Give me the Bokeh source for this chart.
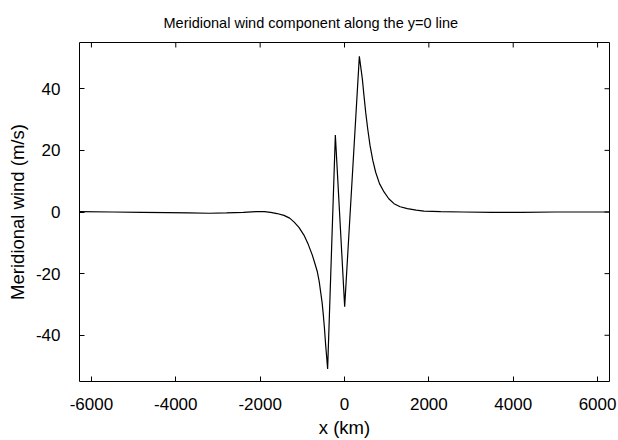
import math
from bokeh.plotting import figure
from bokeh.models import Range1d, FixedTicker
from bokeh.embed import file_html
from bokeh.resources import INLINE

# ---- data ----
x_km = [-6283, -5500, -4800, -4200, -3700, -3200, -2800, -2400, -2100, -1900,
        -1750, -1600, -1436, -1300, -1199, -1080, -962, -860, -763, -700,
        -644, -600, -566, -530, -502, -475, -447, -420, -400,
        -217, 4, 352,
        423, 460, 502, 550, 605, 670, 739, 830, 937, 1050, 1174, 1320, 1491,
        1700, 1885, 2281, 2800, 3500, 4200, 5000, 5800, 6283]
v_ms = [0.1, 0.0, -0.1, -0.2, -0.3, -0.4, -0.3, -0.1, 0.1, 0.1,
        -0.1, -0.5, -1.1, -2.0, -3.2, -5.0, -7.5, -10.5, -14.0, -16.8,
        -19.4, -22.5, -25.9, -29.5, -33.4, -37.8, -43.1, -47.5, -50.9,
        25.0, -30.7, 50.5,
        43.2, 38.0, 32.4, 27.0, 21.6, 16.8, 12.9, 9.2, 6.5, 4.3, 2.7, 1.7, 1.1,
        0.6, 0.3, 0.1, 0.0, -0.1, -0.1, 0.0, 0.0, 0.0]

x_ticks = [-6000, -4000, -2000, 0, 2000, 4000, 6000]
x_tick_labels = ["-6000", "-4000", "-2000", "0", "2000", "4000", "6000"]
y_ticks = [-40, -20, 0, 20, 40]
y_tick_labels = ["-40", "-20", "0", "20", "40"]

x_min, x_max = -6283, 6283
y_min, y_max = -55, 55

FONT = "Liberation Sans"

p = figure(width=618, height=440, output_backend="svg", toolbar_location=None,
           x_range=Range1d(x_min, x_max), y_range=Range1d(y_min, y_max),
           min_border_left=79, min_border_right=9, min_border_top=42,
           min_border_bottom=58)

p.line(x_km, v_ms, line_color="black", line_width=1.2)

# mirrored inward ticks on the top and right edges (clipped to the frame)
p.scatter(x_ticks, [y_max] * len(x_ticks), marker="dash", size=10,
          angle=math.pi / 2, line_color="black", line_width=1)
p.scatter([x_max] * len(y_ticks), y_ticks, marker="dash", size=10,
          angle=0, line_color="black", line_width=1)

p.xgrid.visible = False
p.ygrid.visible = False
p.outline_line_color = "black"
p.outline_line_width = 1
p.outline_line_alpha = 1
p.background_fill_color = "white"
p.border_fill_color = "white"

p.title.text = "Meridional wind component along the y=0 line"
p.title.align = "left"
p.title.offset = 84
p.title.text_font = FONT
p.title.text_font_size = "14.5px"
p.title.text_font_style = "normal"
p.title.text_color = "black"
p.title.standoff = 23

def style(ax, ticks, labels):
    ax.ticker = FixedTicker(ticks=ticks)
    ax.major_label_overrides = {t: s for t, s in zip(ticks, labels)}
    ax.axis_line_color = None
    ax.major_tick_in = 5
    ax.major_tick_out = 0
    ax.major_tick_line_color = "black"
    ax.minor_tick_line_color = None
    ax.major_label_text_font = FONT
    ax.major_label_text_font_size = "17px"
    ax.major_label_text_color = "black"
    ax.axis_label_text_font = FONT
    ax.axis_label_text_font_size = "18.5px"
    ax.axis_label_text_font_style = "normal"
    ax.axis_label_text_color = "black"

xa = p.xaxis[0]
style(xa, x_ticks, x_tick_labels)
xa.axis_label = "x (km)"
xa.major_label_standoff = 16
xa.axis_label_standoff = 4

ya = p.yaxis[0]
style(ya, y_ticks, y_tick_labels)
ya.axis_label = "Meridional wind (m/s)"
ya.major_label_standoff = 19
ya.axis_label_standoff = 5

open("out.html", "w").write(file_html(p, INLINE))
